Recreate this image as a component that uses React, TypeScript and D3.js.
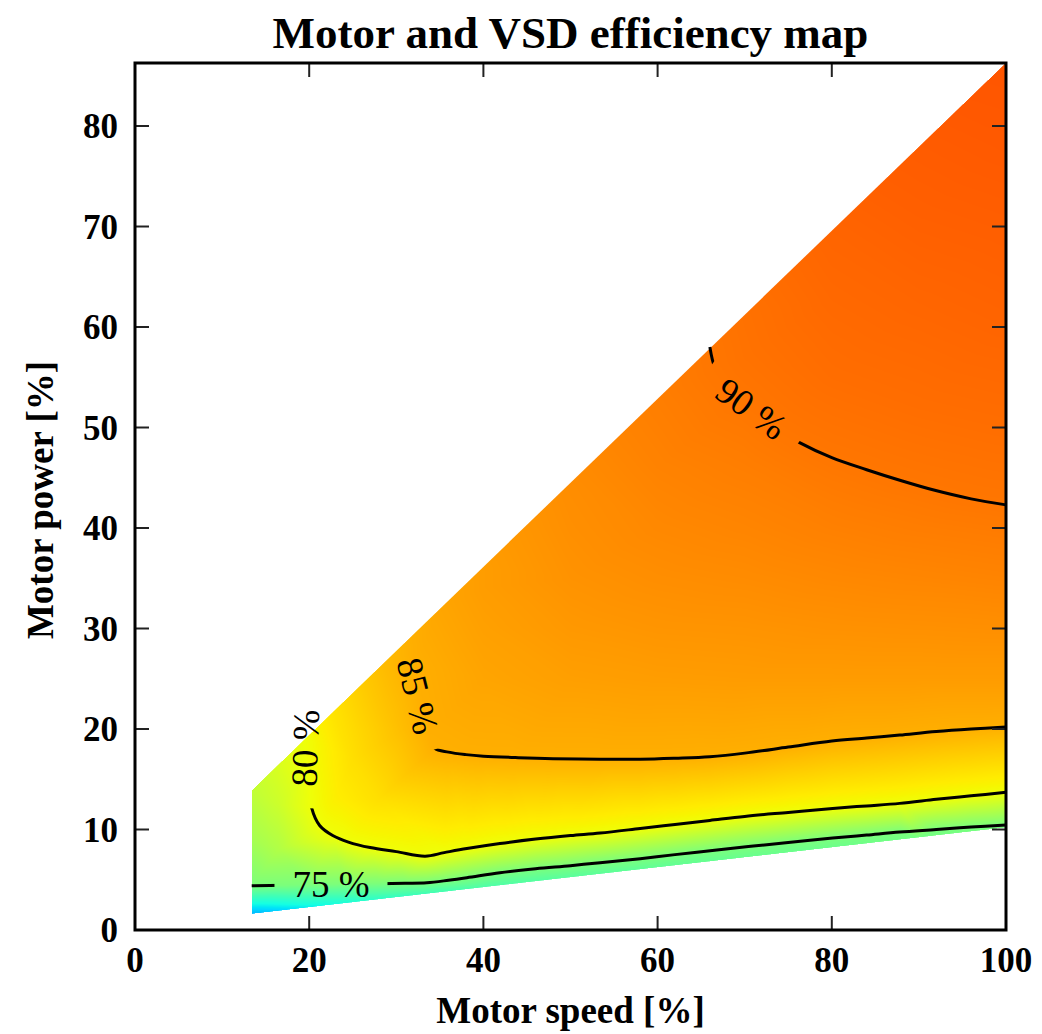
import React, { useMemo } from "react";
import * as d3 from "d3";

// axis ticks
const speedTicks = [0, 20, 40, 60, 80, 100];
const powerTicks = [0, 10, 20, 30, 40, 50, 60, 70, 80];

// operating envelope (speed %, power %)
const envSpeed = [13.4, 13.4, 100, 100];
const envPower = [1.6, 13.9, 86.3, 10.2];

// iso-efficiency lines
const c75Speed = [13.4, 17, 20, 24, 28, 31, 33.5, 36, 38.1, 41.9, 46, 50, 53.4, 58, 62, 66.8, 71, 75, 80.1, 84, 87.8, 92, 96, 100];
const c75Power = [4.4, 4.45, 4.5, 4.55, 4.6, 4.65, 4.7, 4.95, 5.2, 5.7, 6.1, 6.4, 6.7, 7.1, 7.5, 7.96, 8.35, 8.7, 9.15, 9.45, 9.75, 10.0, 10.25, 10.45];

const c80Speed = [19.5, 19.7, 19.9, 20.1, 20.3, 21.2, 22.7, 24.5, 27, 30, 33.3, 35.5, 38.1, 41.9, 46, 50, 53.4, 58, 62, 66, 70, 75, 80.1, 84, 87.8, 92, 96, 100];
const c80Power = [19.0, 17.2, 15.5, 13.8, 12.1, 10.4, 9.4, 8.75, 8.2, 7.8, 7.35, 7.7, 8.1, 8.6, 9.05, 9.4, 9.65, 10.1, 10.5, 10.9, 11.3, 11.7, 12.1, 12.35, 12.6, 13.0, 13.35, 13.7];

const c85Speed = [32.0, 32.6, 33.2, 33.8, 34.4, 36, 38, 40, 44, 48, 53.4, 58, 62, 66, 70, 75, 80, 84, 87.8, 92, 96, 100];
const c85Power = [26.5, 24.0, 21.6, 19.5, 18.1, 17.7, 17.45, 17.3, 17.15, 17.05, 17.0, 17.0, 17.1, 17.25, 17.6, 18.2, 18.8, 19.1, 19.4, 19.75, 20.0, 20.2];

const c90Speed = [66.0, 66.6, 67.8, 69.5, 71.5, 73.8, 76.3, 80, 84, 88, 91.6, 96, 100];
const c90Power = [58.0, 55.9, 54.4, 52.8, 51.3, 49.8, 48.5, 47.0, 45.8, 44.7, 43.8, 42.9, 42.3];

const contourLevels = [75, 80, 85, 90];
const contourSpeeds = [c75Speed, c80Speed, c85Speed, c90Speed];
const contourPowers = [c75Power, c80Power, c85Power, c90Power];

// extra efficiency samples
const anchorSpeed = [
  13.4, 20, 26, 33, 40, 50, 60, 70, 80, 90, 100,
  13.4, 13.4, 16.3, 22.5, 26, 28.5, 35, 40, 45, 50, 55, 60, 70, 75, 80, 85, 90, 95, 100,
  100, 100, 100, 100, 100, 100, 100,
  16.5, 16.5, 23, 25, 28, 29, 31, 26,
  40, 40, 40, 50, 50, 50, 50, 60, 60, 60, 60, 60,
  70, 70, 70, 70, 70, 70, 80, 80, 80, 80, 80, 80,
  90, 90, 90, 90, 90, 90, 90,
];
const anchorPower = [
  1.6, 2.26, 2.85, 3.55, 4.24, 5.23, 6.23, 7.22, 8.21, 9.21, 10.2,
  9.0, 13.9, 16.3, 21.5, 24.4, 26.5, 31.9, 36.1, 40.3, 44.5, 48.6, 52.8, 61.2, 65.3, 69.5, 73.7, 77.9, 82.1, 86.3,
  25, 30, 35, 50, 60, 70, 78,
  8, 12.5, 13, 17, 13, 21, 20, 20,
  25, 30, 34, 25, 30, 35, 40, 25, 30, 35, 40, 46,
  25, 30, 35, 40, 46, 57, 25, 30, 35, 40, 55, 63,
  25, 30, 35, 40, 52, 62, 71,
];
const anchorEff = [
  70.8, 72.0, 72.8, 73.4, 73.8, 74.1, 74.3, 74.5, 74.6, 74.8, 74.9,
  76.8, 78.0, 79.0, 81.6, 83.2, 84.2, 85.8, 86.6, 87.3, 88.0, 88.7, 89.3, 90.4, 90.9, 91.4, 91.8, 92.1, 92.4, 92.6,
  86.7, 87.8, 88.8, 90.7, 91.4, 91.9, 92.3,
  77.3, 78.5, 81.0, 82.0, 82.0, 83.7, 84.2, 82.6,
  85.9, 86.3, 86.6, 86.4, 87.0, 87.5, 87.8, 86.6, 87.3, 87.9, 88.4, 88.9,
  86.7, 87.4, 88.1, 88.7, 89.3, 90.3, 86.7, 87.6, 88.4, 89.1, 90.7, 91.1,
  86.7, 87.7, 88.6, 89.4, 90.7, 91.3, 91.8,
];

// inline contour labels
const labelText = ["75 %", "80 %", "85 %", "90 %"];
const labelSpeed = [22.5, 19.5, 32.5, 70.8];
const labelPower = [4.58, 18.1, 23.3, 51.9];
const labelAngle = [0, -88, 76, 36];
const labelGap = [113, 120, 112, 116];

// colour map: efficiency -> jet position
const effStops = [70.5, 75, 80, 85, 90, 93];
const jetStops = [0.29, 0.5, 0.64, 0.725, 0.785, 0.825];

const W = 1042;
const H = 1034;
const margin = { top: 63, right: 36, bottom: 104, left: 135 };
const plotW = W - margin.left - margin.right;
const plotH = H - margin.top - margin.bottom;
const serif = "'Liberation Serif', 'Times New Roman', serif";

const x = d3.scaleLinear().domain([0, 100]).range([0, plotW]);
const y = d3.scaleLinear().domain([0, 86.27]).range([plotH, 0]);

const jetR = d3.scaleLinear().domain([0, 0.35, 0.66, 0.89, 1]).range([0, 0, 1, 1, 0.5]).clamp(true);
const jetG = d3.scaleLinear().domain([0, 0.125, 0.375, 0.64, 0.91, 1]).range([0, 0, 1, 1, 0, 0]).clamp(true);
const jetB = d3.scaleLinear().domain([0, 0.11, 0.34, 0.65, 1]).range([0.5, 1, 1, 0, 0]).clamp(true);
const effToJet = d3.scaleLinear().domain(effStops).range(jetStops).clamp(true);

// gouraud-style shading: triangulate the samples, fill each triangle linearly
function renderField(): string {
  const pts: [number, number][] = [];
  const vals: number[] = [];
  contourLevels.forEach((lv, k) => {
    contourSpeeds[k].forEach((s, i) => {
      pts.push([x(s), y(contourPowers[k][i])]);
      vals.push(lv);
    });
  });
  anchorSpeed.forEach((s, i) => {
    pts.push([x(s), y(anchorPower[i])]);
    vals.push(anchorEff[i]);
  });

  const lutN = 1024;
  const lutMin = 68;
  const lutMax = 95;
  const lut = new Uint8ClampedArray(lutN * 3);
  for (let i = 0; i < lutN; i++) {
    const t = effToJet(lutMin + ((lutMax - lutMin) * i) / (lutN - 1));
    lut[i * 3] = Math.round(jetR(t) * 255);
    lut[i * 3 + 1] = Math.round(jetG(t) * 255);
    lut[i * 3 + 2] = Math.round(jetB(t) * 255);
  }

  const canvas = document.createElement("canvas");
  canvas.width = plotW;
  canvas.height = plotH;
  const ctx = canvas.getContext("2d");
  if (!ctx) return "";
  const img = ctx.createImageData(plotW, plotH);
  const data = img.data;

  const del = d3.Delaunay.from(pts);
  const tri = del.triangles;
  for (let t = 0; t < tri.length; t += 3) {
    const a = tri[t], b = tri[t + 1], c = tri[t + 2];
    const [x0, y0] = pts[a];
    const [x1, y1] = pts[b];
    const [x2, y2] = pts[c];
    const det = (y1 - y2) * (x0 - x2) + (x2 - x1) * (y0 - y2);
    if (Math.abs(det) < 1e-9) continue;
    const minX = Math.max(0, Math.floor(Math.min(x0, x1, x2)));
    const maxX = Math.min(plotW - 1, Math.ceil(Math.max(x0, x1, x2)));
    const minY = Math.max(0, Math.floor(Math.min(y0, y1, y2)));
    const maxY = Math.min(plotH - 1, Math.ceil(Math.max(y0, y1, y2)));
    for (let py = minY; py <= maxY; py++) {
      const cy = py + 0.5;
      for (let px = minX; px <= maxX; px++) {
        const cx = px + 0.5;
        const l0 = ((y1 - y2) * (cx - x2) + (x2 - x1) * (cy - y2)) / det;
        const l1 = ((y2 - y0) * (cx - x2) + (x0 - x2) * (cy - y2)) / det;
        const l2 = 1 - l0 - l1;
        if (l0 < -1e-6 || l1 < -1e-6 || l2 < -1e-6) continue;
        const v = l0 * vals[a] + l1 * vals[b] + l2 * vals[c];
        let li = Math.round(((v - lutMin) / (lutMax - lutMin)) * (lutN - 1));
        li = Math.max(0, Math.min(lutN - 1, li));
        const o = (py * plotW + px) * 4;
        data[o] = lut[li * 3];
        data[o + 1] = lut[li * 3 + 1];
        data[o + 2] = lut[li * 3 + 2];
        data[o + 3] = 255;
      }
    }
  }
  ctx.putImageData(img, 0, 0);
  return canvas.toDataURL();
}

export default function App() {
  const fieldUrl = useMemo(() => renderField(), []);

  const envPath = d3
    .line<number>()
    .x((_, i) => x(envSpeed[i]))
    .y((_, i) => y(envPower[i]))(envSpeed) + "Z";

  const contourLine = (k: number) =>
    d3
      .line<number>()
      .x((s) => x(s))
      .y((_, i) => y(contourPowers[k][i]))
      .curve(d3.curveCatmullRom.alpha(0.5))(contourSpeeds[k]) || "";

  return (
    <svg width={W} height={H} style={{ position: "absolute", left: 0, top: 0, background: "#fff" }}>
      <defs>
        <clipPath id="envClip">
          <path d={envPath} />
        </clipPath>
        <mask id="labelMask" maskUnits="userSpaceOnUse" x={-10} y={-10} width={plotW + 20} height={plotH + 20}>
          <rect x={-10} y={-10} width={plotW + 20} height={plotH + 20} fill="white" />
          {labelText.map((_, i) => (
            <rect
              key={i}
              transform={`translate(${x(labelSpeed[i])},${y(labelPower[i])}) rotate(${labelAngle[i]})`}
              x={-labelGap[i] / 2}
              y={-20}
              width={labelGap[i]}
              height={40}
              fill="black"
            />
          ))}
        </mask>
      </defs>

      <text
        x={margin.left + plotW / 2}
        y={48}
        textAnchor="middle"
        fontFamily={serif}
        fontWeight="bold"
        fontSize={45}
      >
        Motor and VSD efficiency map
      </text>

      <g transform={`translate(${margin.left},${margin.top})`}>
        <image href={fieldUrl} x={0} y={0} width={plotW} height={plotH} clipPath="url(#envClip)" />

        <g mask="url(#labelMask)">
          {contourLevels.map((lv, k) => (
            <path key={lv} d={contourLine(k)} fill="none" stroke="#000" strokeWidth={3} />
          ))}
        </g>

        {labelText.map((t, i) => (
          <text
            key={t}
            transform={`translate(${x(labelSpeed[i])},${y(labelPower[i])}) rotate(${labelAngle[i]})`}
            textAnchor="middle"
            dy="0.35em"
            fontFamily={serif}
            fontSize={37}
          >
            {t}
          </text>
        ))}

        {/* ticks on all four sides, pointing inward */}
        {speedTicks.slice(1, -1).map((v) => (
          <g key={"xt" + v} stroke="#222" strokeWidth={2}>
            <line x1={x(v)} x2={x(v)} y1={plotH} y2={plotH - 14} />
            <line x1={x(v)} x2={x(v)} y1={0} y2={14} />
          </g>
        ))}
        {powerTicks.slice(1).map((v) => (
          <g key={"yt" + v} stroke="#222" strokeWidth={2}>
            <line x1={0} x2={14} y1={y(v)} y2={y(v)} />
            <line x1={plotW} x2={plotW - 14} y1={y(v)} y2={y(v)} />
          </g>
        ))}

        <rect x={0} y={0} width={plotW} height={plotH} fill="none" stroke="#000" strokeWidth={3} />

        {speedTicks.map((v) => (
          <text
            key={"xl" + v}
            x={x(v)}
            y={plotH + 42}
            textAnchor="middle"
            fontFamily={serif}
            fontWeight="bold"
            fontSize={35}
          >
            {v}
          </text>
        ))}
        {powerTicks.map((v) => (
          <text
            key={"yl" + v}
            x={-17}
            y={y(v)}
            dy="0.35em"
            textAnchor="end"
            fontFamily={serif}
            fontWeight="bold"
            fontSize={35}
          >
            {v}
          </text>
        ))}
      </g>

      <text
        x={margin.left + plotW / 2}
        y={1023}
        textAnchor="middle"
        fontFamily={serif}
        fontWeight="bold"
        fontSize={37}
      >
        Motor speed [%]
      </text>
      <text
        transform={`translate(53,500) rotate(-90)`}
        textAnchor="middle"
        fontFamily={serif}
        fontWeight="bold"
        fontSize={37}
      >
        Motor power [%]
      </text>
    </svg>
  );
}
